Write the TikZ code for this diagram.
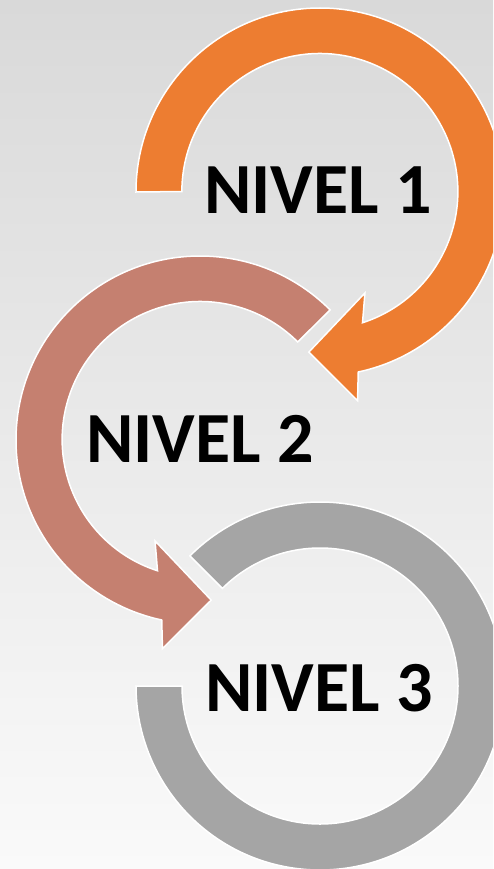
\documentclass[tikz,border=0pt]{standalone}
\usepackage{fontspec}
\setmainfont{Carlito}
\definecolor{bgtop}{HTML}{D9D9D9}
\definecolor{bgbot}{HTML}{FAFAFA}
\definecolor{orangeC}{HTML}{ED7D31}
\definecolor{salmonC}{HTML}{C58070}
\definecolor{grayC}{HTML}{A5A5A5}
\begin{document}
\begin{tikzpicture}[x=1pt,y=1pt,
  band/.style={draw=white,line width=1.5pt,line join=miter},
  lbl/.style={font=\bfseries\fontsize{72}{72}\selectfont,anchor=base,text=black,inner sep=0pt}]
\useasboundingbox (0,0) rectangle (493,-869);
\shade[top color=bgtop,bottom color=bgbot] (0,0) rectangle (493,-869);
\clip (0,0) rectangle (493,-869);
\coordinate (c1) at (320,-192);
\coordinate (c2) at (200,-440);
\coordinate (c3) at (320,-686);
% gray ring segment (level 3)
\path[band,fill=grayC] ([shift={(135:184)}]c3) arc[start angle=135,end angle=-180,radius=184]
  -- ([shift={(180:138)}]c3) arc[start angle=-180,end angle=135,radius=138] -- cycle;
% salmon arrow (level 2)
\path[band,fill=salmonC] ([shift={(45:184)}]c2) arc[start angle=45,end angle=258,radius=184]
  -- ([shift={(259.8:212)}]c2) -- ([shift={(274:160.5)}]c2) -- ([shift={(246:110.5)}]c2)
  -- ([shift={(252:137.5)}]c2) arc[start angle=252,end angle=45,radius=138] -- cycle;
% orange arrow (level 1)
\path[band,fill=orangeC] ([shift={(180:184)}]c1) arc[start angle=180,end angle=-78,radius=184]
  -- ([shift={(-79.8:212)}]c1) -- ([shift={(-94:160.5)}]c1) -- ([shift={(-66:110.5)}]c1)
  -- ([shift={(-72:137.5)}]c1) arc[start angle=-72,end angle=180,radius=138] -- cycle;
\node[lbl] (t1) at (318,-213) {NIVEL 1};
\node[lbl] (t2) at (200,-462) {NIVEL 2};
\node[lbl] (t3) at (319,-711) {NIVEL 3};
\end{tikzpicture}
\end{document}
